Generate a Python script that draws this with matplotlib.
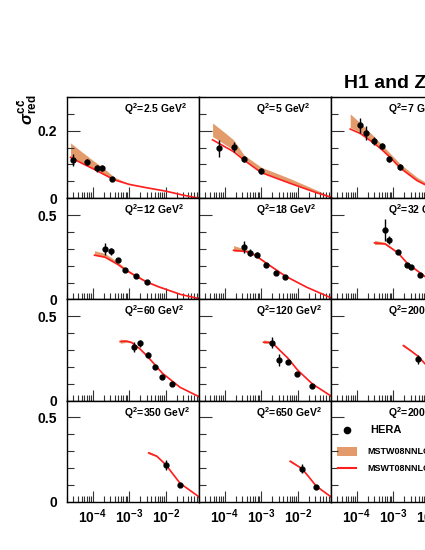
import numpy as np
import matplotlib
matplotlib.use('Agg')
import matplotlib.pyplot as plt
from matplotlib.ticker import FixedLocator, FixedFormatter, MultipleLocator, LogLocator, NullFormatter
from matplotlib.patches import Rectangle

plt.rcParams['font.family'] = ['Liberation Sans', 'DejaVu Sans']
plt.rcParams['font.weight'] = 'bold'
plt.rcParams['mathtext.fontset'] = 'custom'
plt.rcParams['mathtext.rm'] = 'Liberation Sans:bold'
plt.rcParams['mathtext.it'] = 'Liberation Sans:italic:bold'
plt.rcParams['mathtext.bf'] = 'Liberation Sans:bold'

# Q^2 bins (GeV^2), one per panel
q2_labels = ['2.5', '5', '7', '12', '18', '32', '60', '120', '200', '350', '650', '2000']

# HERA combined charm data
hera_x = [[3.0e-5, 7.0e-5, 1.32e-4, 1.8e-4, 3.5e-4],
          [7.2e-5, 1.76e-4, 3.44e-4, 9.8e-4],
          [1.26e-4, 1.8e-4, 3.0e-4, 5.0e-4, 7.9e-4, 1.58e-3],
          [2.22e-4, 3.2e-4, 4.9e-4, 7.9e-4, 1.52e-3, 3.0e-3],
          [3.44e-4, 5.0e-4, 7.9e-4, 1.37e-3, 2.5e-3, 4.5e-3],
          [6.05e-4, 7.9e-4, 1.37e-3, 2.4e-3, 3.16e-3, 5.3e-3],
          [1.39e-3, 2.0e-3, 3.2e-3, 5.0e-3, 8.1e-3, 1.48e-2],
          [2.0e-3, 3.16e-3, 5.4e-3, 9.8e-3, 2.5e-2],
          [4.9e-3],
          [1.0e-2, 2.45e-2],
          [1.31e-2, 3.16e-2],
          []]
hera_y = [[0.113, 0.107, 0.089, 0.090, 0.057],
          [0.148, 0.151, 0.116, 0.081],
          [0.216, 0.193, 0.170, 0.155, 0.116, 0.093],
          [0.299, 0.285, 0.235, 0.177, 0.141, 0.103],
          [0.311, 0.277, 0.265, 0.201, 0.159, 0.133],
          [0.414, 0.354, 0.279, 0.203, 0.195, 0.147],
          [0.320, 0.340, 0.271, 0.198, 0.142, 0.101],
          [0.344, 0.241, 0.228, 0.158, 0.085],
          [0.245],
          [0.218, 0.098],
          [0.196, 0.090],
          []]
hera_err = [[0.017, 0.010, 0.010, 0.009, 0.004],
            [0.026, 0.015, 0.009, 0.008],
            [0.023, 0.021, 0.012, 0.010, 0.010, 0.008],
            [0.035, 0.020, 0.012, 0.010, 0.008, 0.008],
            [0.035, 0.020, 0.015, 0.010, 0.008, 0.008],
            [0.065, 0.024, 0.012, 0.010, 0.010, 0.008],
            [0.030, 0.020, 0.015, 0.012, 0.012, 0.008],
            [0.032, 0.035, 0.010, 0.010, 0.008],
            [0.027],
            [0.028, 0.010],
            [0.028, 0.010],
            []]

# MSTW08 NNLO prediction: central line and band
th_x = [[2.5e-5, 5e-5, 1e-4, 2e-4, 4e-4, 1e-3, 3e-3, 1e-2, 3e-2, 8e-2],
        [4.7e-5, 1e-4, 1.76e-4, 3.4e-4, 1e-3, 6.2e-3, 3.3e-2, 8e-2],
        [6.7e-5, 1.26e-4, 3e-4, 5e-4, 7.9e-4, 1.58e-3, 4.5e-3, 1.6e-2, 8e-2],
        [1.13e-4, 2.2e-4, 4.9e-4, 7.9e-4, 1.5e-3, 3e-3, 6.3e-3, 2.5e-2, 8e-2],
        [1.76e-4, 3.44e-4, 5e-4, 7.9e-4, 1.37e-3, 4.5e-3, 1.76e-2, 8e-2],
        [3.1e-4, 6e-4, 1.37e-3, 2.4e-3, 5.3e-3, 7.4e-3, 2.5e-2, 8e-2],
        [5.7e-4, 8.6e-4, 1.18e-3, 2e-3, 3.2e-3, 8.1e-3, 2.45e-2, 8e-2],
        [1.16e-3, 2e-3, 3.16e-3, 5.4e-3, 9.8e-3, 2.5e-2, 8e-2],
        [1.9e-3, 3e-3, 4.9e-3, 7.4e-3, 2.5e-2, 8e-2],
        [3.4e-3, 5.7e-3, 1e-2, 2.45e-2, 8e-2],
        [6.2e-3, 1.31e-2, 2.04e-2, 3.16e-2, 8e-2],
        []]
th_red = [[0.121, 0.104, 0.088, 0.071, 0.054, 0.041, 0.031, 0.021, 0.009, 0.0],
          [0.173, 0.153, 0.138, 0.113, 0.076, 0.044, 0.016, 0.003],
          [0.205, 0.192, 0.163, 0.143, 0.123, 0.089, 0.052, 0.022, 0.003],
          [0.262, 0.250, 0.207, 0.175, 0.139, 0.103, 0.075, 0.030, 0.005],
          [0.291, 0.285, 0.278, 0.252, 0.215, 0.139, 0.072, 0.010],
          [0.335, 0.329, 0.275, 0.215, 0.159, 0.135, 0.065, 0.020],
          [0.350, 0.352, 0.344, 0.305, 0.261, 0.162, 0.079, 0.024],
          [0.346, 0.344, 0.300, 0.251, 0.182, 0.099, 0.028],
          [0.326, 0.296, 0.261, 0.218, 0.120, 0.040],
          [0.290, 0.270, 0.220, 0.110, 0.030],
          [0.240, 0.196, 0.146, 0.094, 0.030],
          []]
band_hi = [[0.164, 0.138, 0.113, 0.089, 0.062, 0.043, 0.032, 0.022, 0.010, 0.001],
           [0.223, 0.195, 0.173, 0.128, 0.092, 0.058, 0.024, 0.005],
           [0.250, 0.223, 0.183, 0.158, 0.135, 0.101, 0.062, 0.027, 0.004],
           [0.289, 0.272, 0.222, 0.185, 0.147, 0.112, 0.082, 0.034, 0.006],
           [0.319, 0.300, 0.290, 0.260, 0.222, 0.145, 0.076, 0.011],
           [0.350, 0.338, 0.281, 0.220, 0.164, 0.139, 0.068, 0.021],
           [0.364, 0.360, 0.350, 0.310, 0.265, 0.165, 0.081, 0.025],
           [0.360, 0.350, 0.305, 0.255, 0.185, 0.101, 0.029],
           [0.336, 0.302, 0.265, 0.221, 0.122, 0.041],
           [0.300, 0.276, 0.224, 0.112, 0.031],
           [0.250, 0.200, 0.148, 0.096, 0.031],
           []]
band_lo = [[0.123, 0.106, 0.089, 0.072, 0.055, 0.041, 0.031, 0.021, 0.009, 0.0],
           [0.183, 0.160, 0.143, 0.115, 0.078, 0.045, 0.017, 0.003],
           [0.210, 0.196, 0.165, 0.144, 0.124, 0.090, 0.053, 0.022, 0.003],
           [0.262, 0.251, 0.208, 0.176, 0.139, 0.103, 0.075, 0.030, 0.005],
           [0.285, 0.285, 0.278, 0.252, 0.215, 0.139, 0.072, 0.010],
           [0.325, 0.327, 0.275, 0.215, 0.159, 0.135, 0.065, 0.020],
           [0.340, 0.346, 0.342, 0.304, 0.261, 0.162, 0.079, 0.024],
           [0.340, 0.340, 0.298, 0.251, 0.182, 0.099, 0.028],
           [0.320, 0.294, 0.261, 0.218, 0.120, 0.040],
           [0.284, 0.268, 0.220, 0.110, 0.030],
           [0.236, 0.196, 0.146, 0.094, 0.030],
           []]

band_color = '#E49B6B'
line_color = '#FF1E1E'

W, H = 425.0, 550.0
col_left = [67, 199, 331]  # pixel positions of panel columns
top0 = 97
pw, ph = 132.0, 101.2

fig = plt.figure(figsize=(4.25, 5.5), dpi=100)

for i in range(12):
    r, c = i // 3, i % 3
    ax = fig.add_axes([col_left[c] / W, 1 - (top0 + (r + 1) * ph) / H, pw / W, ph / H])
    ax.set_xscale('log')
    ax.set_xlim(2e-5, 8.1e-2)
    if r == 0:
        ax.set_ylim(0, 0.3)
        ax.yaxis.set_major_locator(FixedLocator([0, 0.2]))
        ax.yaxis.set_major_formatter(FixedFormatter(['0', '0.2']))
        ax.yaxis.set_minor_locator(MultipleLocator(0.05))
    else:
        ax.set_ylim(0, 0.6)
        ax.yaxis.set_major_locator(FixedLocator([0, 0.5]))
        ax.yaxis.set_major_formatter(FixedFormatter(['0', '0.5']))
        ax.yaxis.set_minor_locator(MultipleLocator(0.1))
    ax.xaxis.set_major_locator(FixedLocator([1e-4, 1e-3, 1e-2]))
    ax.xaxis.set_major_formatter(FixedFormatter([r'$10^{-4}$', r'$10^{-3}$', r'$10^{-2}$']))
    ax.xaxis.set_minor_locator(LogLocator(base=10, subs=np.arange(2, 10)))
    ax.xaxis.set_minor_formatter(NullFormatter())
    ax.tick_params(which='both', direction='in', top=False, right=False, width=0.8, color='#333333')
    ax.tick_params(axis='y', which='major', length=9, pad=7, labelsize=10)
    ax.tick_params(axis='y', which='minor', length=5)
    ax.tick_params(axis='x', which='major', length=8, pad=4, labelsize=10)
    ax.tick_params(axis='x', which='minor', length=4)
    if c != 0:
        ax.tick_params(axis='y', labelleft=False)
    if r != 3:
        ax.tick_params(axis='x', labelbottom=False)
    for s in ax.spines.values():
        s.set_linewidth(1.0)

    if len(th_x[i]) > 0:
        ax.fill_between(th_x[i], band_lo[i], band_hi[i], color=band_color, lw=0)  # prediction band
        ax.plot(th_x[i], th_red[i], color=line_color, lw=1.2)  # central line
    if len(hera_x[i]) > 0:
        ax.errorbar(hera_x[i], hera_y[i], yerr=hera_err[i], fmt='o', color='black',
                    ms=3.5, elinewidth=1.0, capsize=0)

    ax.text(0.43, 0.88, r'$\mathrm{Q^2\!=\!' + q2_labels[i] + r'\ GeV^2}$', transform=ax.transAxes,
            fontsize=7.5, ha='left', va='center')

    if i == 11:  # legend panel
        ax.plot([0.123], [0.708], 'o', color='black', ms=4.5, transform=ax.transAxes)
        ax.text(0.295, 0.708, 'HERA', transform=ax.transAxes, fontsize=8, va='center')
        ax.add_patch(Rectangle((0.048, 0.455), 0.151, 0.088, transform=ax.transAxes,
                               facecolor=band_color, edgecolor='none'))
        ax.text(0.279, 0.50, 'MSTW08NNLO', transform=ax.transAxes, fontsize=6.5, va='center')
        ax.plot([0.055, 0.189], [0.333, 0.333], color=line_color, lw=1.5, transform=ax.transAxes)
        ax.text(0.279, 0.333, 'MSWT08NNLO', transform=ax.transAxes, fontsize=6.5, va='center')

fig.text(344 / W, 1 - 83 / H, 'H1 and ZEUS', fontsize=14, fontweight='bold', ha='left', va='center')
fig.text(27 / W, 1 - 110 / H, r'$\sigma^{\mathrm{c\bar{c}}}_{\mathrm{red}}$', rotation=90, fontsize=12,
         ha='center', va='center')

fig.savefig('out.png', dpi=100)
